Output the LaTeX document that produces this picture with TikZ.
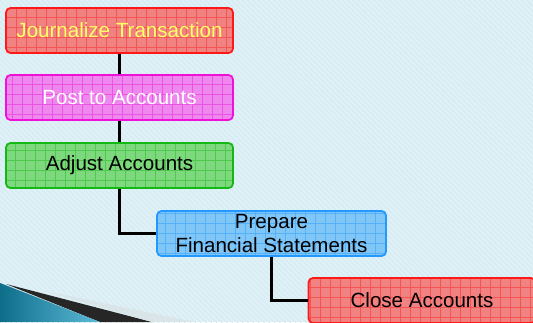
\documentclass[tikz,border=0pt]{standalone}
\usepackage{fontspec}
\setmainfont{Liberation Sans}
\usetikzlibrary{positioning}
\usetikzlibrary{patterns}
\definecolor{bgblue}{HTML}{DFF1F6}
\definecolor{bgline}{HTML}{D2EAF1}
\definecolor{jred}{HTML}{FF1A1A}
\definecolor{jredfill}{HTML}{F08282}
\definecolor{jmag}{HTML}{F011D8}
\definecolor{jmagfill}{HTML}{EE88EE}
\definecolor{jgreen}{HTML}{14B814}
\definecolor{jgreenfill}{HTML}{7ED87E}
\definecolor{jblue}{HTML}{2299FF}
\definecolor{jbluefill}{HTML}{80C6F6}
\definecolor{jyellow}{HTML}{FFFF66}
\definecolor{swoopdark}{HTML}{0E6E8A}
\definecolor{swooplight}{HTML}{5DBAD8}
\tikzset{
    stage/.style 2 args = {rectangle, rounded corners=2.5pt, line width=1pt, fill=#1, draw=#2,
        align=center, inner sep=0pt, minimum width=4.54cm, minimum height=0.9cm,
        font=\fontsize{11.7}{14.2}\selectfont,
        path picture={\draw[#2,opacity=0.45,line width=0.5pt] (path picture bounding box.south west) grid[step=0.2cm] (path picture bounding box.north east);}},
    stager/.style = {stage={jredfill}{jred}},
    stagem/.style = {stage={jmagfill}{jmag}},
    stageg/.style = {stage={jgreenfill}{jgreen}},
    stageb/.style = {stage={jbluefill}{jblue}},
    link/.style = {line width=1.2pt,black}
}

\begin{document}
\begin{tikzpicture}[x=0.02cm,y=-0.02cm]
\useasboundingbox (0,0) rectangle (533,322);
\clip (0,0) rectangle (533,322);
% backdrop
\fill[bgblue] (0,0) rectangle (533,322);
\fill[pattern=north west lines,pattern color=bgline] (0,0) rectangle (533,322);
% corner swoop
\fill[black!85] (6,284) -- (152,322) -- (100,322) -- cycle;
\fill[bgline!80!gray!60] (40,290) -- (195,322) -- (152,322) -- cycle;
\shade[left color=swoopdark,right color=swooplight] (0,283) -- (100,322) -- (0,322) -- cycle;
%
\node[stager, text=jyellow] at (119.5, 30.5) (jt) {Journalize Transaction};
\node[stagem, text=white] at (119.5, 97.5) (pa) {Post to Accounts};
\node[stageg] at (119.5, 165.5) (aa) {Adjust Accounts};
\node[stageb, minimum width=4.58cm] at (271.5, 233.5) (pfs) {Prepare\\Financial Statements};
\node[stager] at (422.0, 300.5) (ca) {Close Accounts};
%
\draw[link] (jt) -- (pa);
\draw[link] (pa) -- (aa);
\draw[link] (aa.south) |- (pfs.west);
\draw[link] (pfs.south) |- (ca.west);
\end{tikzpicture}
\end{document}
